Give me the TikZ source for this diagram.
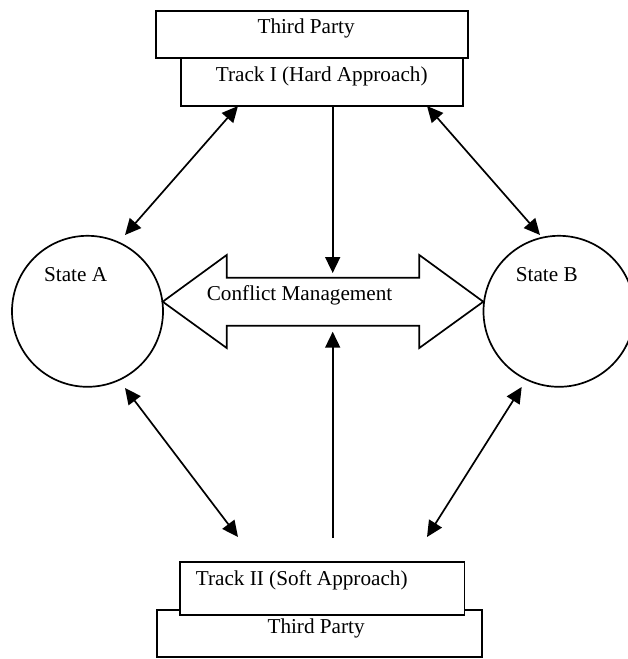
\documentclass[tikz,border=0pt]{standalone}
\usepackage{fontspec}
\setmainfont{Liberation Serif}
\usetikzlibrary{arrows.meta}
\begin{document}
\begin{tikzpicture}[x=1pt,y=-1pt,
  line width=1.7pt,
  boxshape/.style={draw,fill=white,rectangle,inner sep=0pt},
  lbl/.style={inner sep=0pt,anchor=base west,font=\fontsize{21.2}{25}\selectfont},
  arr/.style={-{Triangle[length=16pt,width=15pt]}},
  darr/.style={{Triangle[length=16pt,width=15pt]}-{Triangle[length=16pt,width=15pt]}}]
\useasboundingbox[fill=white] (0,0) rectangle (627,659);
% top boxes
\node[boxshape,minimum width=312pt,minimum height=47.3pt] (tp1) at (312,34.3) {};
\node[boxshape,minimum width=282.6pt,minimum height=48pt] (tr1) at (322,82) {};
\node[lbl] (tp1t) at (256.7,33.3) {Third Party};
\node[lbl] (tr1t) at (215,81.5) {Track I (Hard Approach)};
% bottom boxes
\node[boxshape,minimum width=325.3pt,minimum height=47.3pt] (tp2) at (319.3,633.6) {};
\node[boxshape,minimum width=284.3pt,minimum height=52.7pt] (tr2) at (322.2,588.6) {};
\node[lbl] (tr2t) at (195,585) {Track II (Soft Approach)};
\node[lbl] (tp2t) at (266.7,633.3) {Third Party};
% states
\node[draw,circle,minimum size=151pt,inner sep=0pt] (sa) at (87.5,311.3) {};
\node[draw,circle,minimum size=151pt,inner sep=0pt] (sb) at (559,311.3) {};
\node[lbl] (sat) at (43.3,281.7) {State A};
\node[lbl] (sbt) at (515,281.7) {State B};
% double arrow
\draw[line join=miter] (162.7,301.7) -- (226.7,255) -- (226.7,277.7) -- (419.3,277.7) -- (419.3,255)
  -- (483.3,301.7) -- (419.3,348) -- (419.3,325.7) -- (226.7,325.7) -- (226.7,348) -- cycle;
\node[lbl] (cm) at (206,300) {Conflict Management};
% coordinates
\coordinate (vt1) at (332.7,106);
\coordinate (vt2) at (332.7,273);
\coordinate (vb1) at (332.7,538);
\coordinate (vb2) at (332.7,331.7);
\coordinate (tl1) at (238,106);
\coordinate (tl2) at (125,235);
\coordinate (tr1a) at (427,106);
\coordinate (tr2a) at (540,235);
\coordinate (bl1) at (125,388);
\coordinate (bl2) at (238,537);
\coordinate (br1) at (521.7,387);
\coordinate (br2) at (427,537);
% connectors
\draw[arr] (vt1) -- (vt2);
\draw[arr] (vb1) -- (vb2);
\draw[darr] (tl1) -- (tl2);
\draw[darr] (tr1a) -- (tr2a);
\draw[darr] (bl1) -- (bl2);
\draw[darr] (br1) -- (br2);
\end{tikzpicture}
\end{document}
